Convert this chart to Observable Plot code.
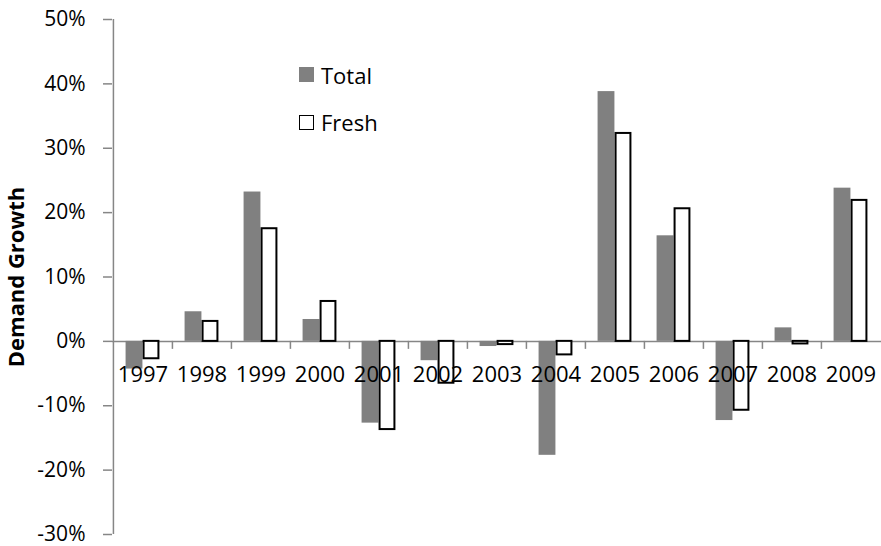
<!DOCTYPE html>
<html>
<head>
<meta charset="utf-8">
<script src="https://cdn.jsdelivr.net/npm/d3@7"></script>
<script src="https://cdn.jsdelivr.net/npm/@observablehq/plot@0.6"></script>
<style>
  html, body { margin: 0; padding: 0; background: #fff; }
  #wrap { position: relative; width: 881px; height: 546px; font-family: "Open Sans", sans-serif; }
  .leg { position: absolute; display: flex; align-items: center; font-size: 22px; color: #000; line-height: 30px; }
  .sw { width: 15px; height: 15px; box-sizing: border-box; margin-right: 7px; }
</style>
</head>
<body>
<div id="wrap"></div>
<script>
const years = ["1997","1998","1999","2000","2001","2002","2003","2004","2005","2006","2007","2008","2009"];
const totalGrowth = [-4.3, 4.6, 23.2, 3.4, -12.7, -3.0, -0.8, -17.7, 38.8, 16.4, -12.3, 2.1, 23.8];
const freshGrowth = [-2.7, 3.1, 17.5, 6.2, -13.7, -6.5, -0.5, -2.1, 32.3, 20.6, -10.7, -0.4, 21.9];
const yTicks = [-30, -20, -10, 0, 10, 20, 30, 40, 50];
const seriesNames = ["Total", "Fresh"];

const rows = years.map((y, i) => ({year: y, total: totalGrowth[i], fresh: freshGrowth[i]}));

const W = 881, H = 546, mL = 112, mR = 0, mT = 19, mB = 12;
const step = (W - mL - mR) / years.length;
const barW = 17;
const outer = step / 2 - barW;
const axisGray = "#868686";

const chart = Plot.plot({
  width: W, height: H,
  marginLeft: mL, marginRight: mR, marginTop: mT, marginBottom: mB,
  style: {fontFamily: "Open Sans, sans-serif", background: "white", color: "black"},
  x: {domain: years, padding: 0, axis: null},
  y: {domain: [-30, 50], axis: null},
  marks: [
    Plot.ruleY([0], {stroke: axisGray, strokeWidth: 1.5}),
    Plot.barY(rows, {x: "year", y: "total", fill: "#808080", insetLeft: outer, insetRight: step / 2}),
    Plot.barY(rows, {x: "year", y: "fresh", fill: "white", stroke: "black", strokeWidth: 2, insetLeft: step / 2 + 1, insetRight: outer + 1}),
    // category boundary ticks below the zero line
    Plot.ruleX(years.slice(1), {x: d => d, y1: () => 0, y2: () => 0, dx: -step / 2, insetBottom: -8, stroke: axisGray, strokeWidth: 1.5}),
    // y axis line
    Plot.ruleX([years[0]], {x: d => d, y1: () => -30, y2: () => 50, dx: -step / 2, stroke: axisGray, strokeWidth: 1.5}),
    Plot.axisY(yTicks, {tickSize: 9, tickPadding: 18, tickFormat: d => d + "%", stroke: axisGray, strokeWidth: 1.5, fill: "black", fontSize: 21, label: null}),
    Plot.text(years, {x: d => d, y: () => 0, dy: 34, fontSize: 22, fill: "black"}),
    Plot.text(["Demand Growth"], {frameAnchor: "left", textAnchor: "middle", dx: -96, rotate: -90, fontSize: 22, fontWeight: "bold", fill: "black"})
  ]
});

const wrap = document.getElementById("wrap");
wrap.appendChild(chart);

const legendPos = [{left: 299, top: 59.5}, {left: 299, top: 107}];
seriesNames.forEach((name, i) => {
  const item = document.createElement("div");
  item.className = "leg";
  item.style.left = legendPos[i].left + "px";
  item.style.top = legendPos[i].top + "px";
  const sw = document.createElement("div");
  sw.className = "sw";
  if (i === 0) { sw.style.background = "#808080"; }
  else { sw.style.background = "white"; sw.style.border = "1.5px solid black"; }
  const t = document.createElement("span");
  t.textContent = name;
  item.appendChild(sw);
  item.appendChild(t);
  wrap.appendChild(item);
});
</script>
</body>
</html>
